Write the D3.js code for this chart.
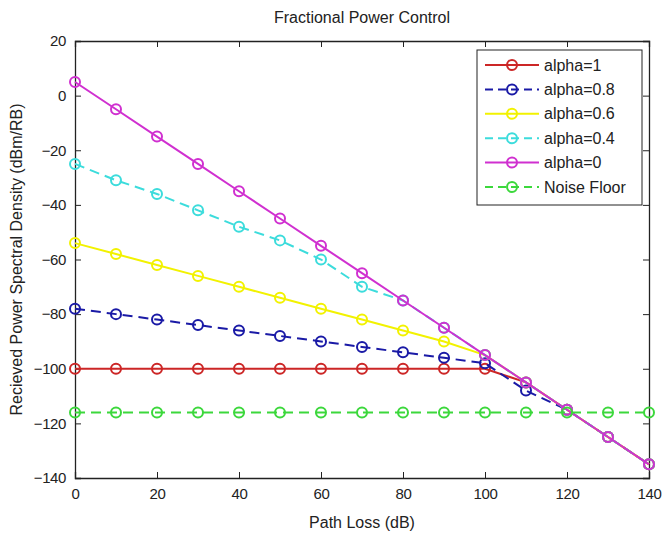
<!DOCTYPE html>
<html>
<head>
<meta charset="utf-8">
<script src="https://cdn.jsdelivr.net/npm/d3@7"></script>
<style>
    body { margin: 0; background: #fff; }
    text { font-family: "Liberation Sans", Arial, sans-serif; }
</style>
</head>
<body>
<div id="chart"></div>
<script>
// path loss (dB) for every point
var pathLoss = [0, 10, 20, 30, 40, 50, 60, 70, 80, 90, 100, 110, 120, 130, 140];

// recieved PSD (dBm/RB) per series
var alpha1 = [-100, -100, -100, -100, -100, -100, -100, -100, -100, -100, -100, -105, -115, -125, -135];
var alpha08 = [-78, -80, -82, -84, -86, -88, -90, -92, -94, -96, -98, -108, -115, -125, -135];
var alpha06 = [-54, -58, -62, -66, -70, -74, -78, -82, -86, -90, -95, -105, -115, -125, -135];
var alpha04 = [-25, -31, -36, -42, -48, -53, -60, -70, -75, -85, -95, -105, -115, -125, -135];
var alpha0 = [5, -5, -15, -25, -35, -45, -55, -65, -75, -85, -95, -105, -115, -125, -135];
var noiseFloor = [-116, -116, -116, -116, -116, -116, -116, -116, -116, -116, -116, -116, -116, -116, -116];

var seriesNames = ["alpha=1", "alpha=0.8", "alpha=0.6", "alpha=0.4", "alpha=0", "Noise Floor"];
var seriesColors = ["#cc2626", "#1a1aa6", "#f2f200", "#3cdcdc", "#d030d0", "#3cd83c"];
var seriesDash = [null, "10,6", null, "10,6", null, "10,6"];
var seriesValues = [alpha1, alpha08, alpha06, alpha04, alpha0, noiseFloor];

var xTicks = [0, 20, 40, 60, 80, 100, 120, 140];
var yTicks = [20, 0, -20, -40, -60, -80, -100, -120, -140];

var width = 662, height = 535;
var margin = {left: 75, right: 13, top: 41, bottom: 57};

var svg = d3.select("#chart").append("svg")
    .attr("width", width)
    .attr("height", height);

var x = d3.scaleLinear().domain([0, 140]).range([margin.left, width - margin.right]);
var y = d3.scaleLinear().domain([-140, 20]).range([height - margin.bottom, margin.top]);

// axes box, ticks point inwards on all sides
svg.append("g")
    .attr("transform", "translate(0," + y(-140) + ")")
    .call(d3.axisBottom(x).tickValues(xTicks).tickSize(-6).tickPadding(10).tickFormat(d3.format("d")))
    .call(styleAxis);
svg.append("g")
    .attr("transform", "translate(0," + y(20) + ")")
    .call(d3.axisTop(x).tickValues(xTicks).tickSize(-6).tickFormat(""))
    .call(styleAxis);
svg.append("g")
    .attr("transform", "translate(" + x(0) + ",0)")
    .call(d3.axisLeft(y).tickValues(yTicks).tickSize(-6).tickPadding(9).tickFormat(d3.format("d")))
    .call(styleAxis);
svg.append("g")
    .attr("transform", "translate(" + x(140) + ",0)")
    .call(d3.axisRight(y).tickValues(yTicks).tickSize(-6).tickFormat(""))
    .call(styleAxis);

function styleAxis(g) {
    g.select(".domain").attr("stroke", "#222").attr("stroke-width", 1.3);
    g.selectAll(".tick line").attr("stroke", "#222").attr("stroke-width", 1);
    g.selectAll(".tick text").attr("font-size", 15).attr("fill", "#222")
        .attr("letter-spacing", -0.4)
        .attr("font-family", "'Liberation Sans', Arial, sans-serif");
}

var line = d3.line()
    .x(function (d) { return x(d.x); })
    .y(function (d) { return y(d.y); });

seriesValues.forEach(function (vals, k) {
    var pts = pathLoss.map(function (p, i) { return {x: p, y: vals[i]}; });
    var g = svg.append("g");
    g.append("path")
        .datum(pts)
        .attr("d", line)
        .attr("fill", "none")
        .attr("stroke", seriesColors[k])
        .attr("stroke-width", 2)
        .attr("stroke-dasharray", seriesDash[k]);
    g.selectAll("circle")
        .data(pts)
        .enter().append("circle")
        .attr("cx", function (d) { return x(d.x); })
        .attr("cy", function (d) { return y(d.y); })
        .attr("r", 5)
        .attr("fill", "none")
        .attr("stroke", seriesColors[k])
        .attr("stroke-width", 2);
});

// legend
var lg = svg.append("g").attr("transform", "translate(477,50)");
lg.append("rect")
    .attr("width", 165)
    .attr("height", 155)
    .attr("fill", "#fff")
    .attr("stroke", "#222")
    .attr("stroke-width", 1);
seriesNames.forEach(function (name, k) {
    var ry = 15 + k * 24.4;
    lg.append("line")
        .attr("x1", 8).attr("x2", 62)
        .attr("y1", ry).attr("y2", ry)
        .attr("stroke", seriesColors[k])
        .attr("stroke-width", 2)
        .attr("stroke-dasharray", seriesDash[k] ? "8,5" : null);
    lg.append("circle")
        .attr("cx", 35).attr("cy", ry).attr("r", 5)
        .attr("fill", "none")
        .attr("stroke", seriesColors[k])
        .attr("stroke-width", 2);
    lg.append("text")
        .attr("x", 67).attr("y", ry)
        .attr("dy", "0.35em")
        .attr("font-size", 16)
        .attr("fill", "#222")
        .text(name);
});

// labels
svg.append("text")
    .attr("x", x(70)).attr("y", 23)
    .attr("text-anchor", "middle")
    .attr("font-size", 16)
    .attr("fill", "#222")
    .text("Fractional Power Control");
svg.append("text")
    .attr("x", x(70)).attr("y", 528)
    .attr("text-anchor", "middle")
    .attr("font-size", 16)
    .attr("fill", "#222")
    .text("Path Loss (dB)");
svg.append("text")
    .attr("transform", "translate(22," + y(-60) + ") rotate(-90)")
    .attr("text-anchor", "middle")
    .attr("font-size", 16)
    .attr("fill", "#222")
    .text("Recieved Power Spectral Density (dBm/RB)");
</script>
</body>
</html>
